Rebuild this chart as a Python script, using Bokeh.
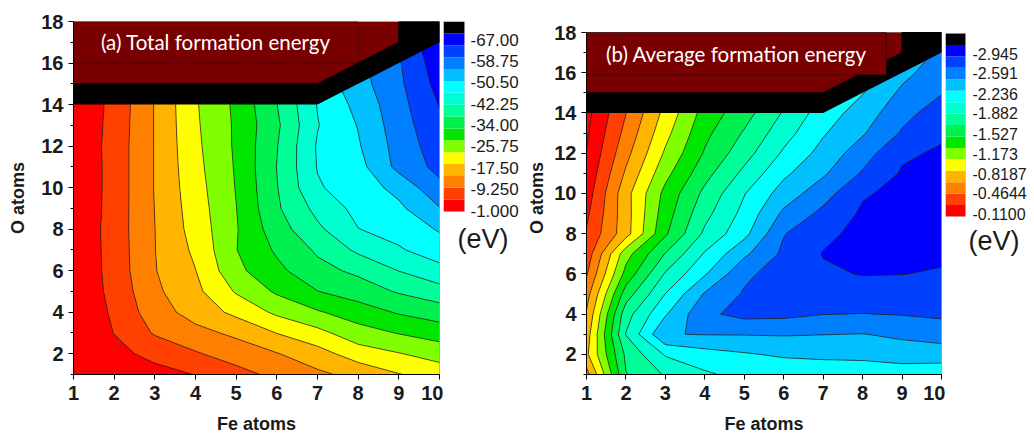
import numpy as np
from bokeh.plotting import figure
from bokeh.layouts import row
from bokeh.models import Range1d, FixedTicker, BoxAnnotation, Label
from bokeh.core.properties import value
from bokeh.embed import file_html
from bokeh.resources import INLINE

nan = float("nan")

# ---------------- data ----------------
fe_atoms = [1, 2, 3, 4, 5, 6, 7, 8, 9, 10]
o_atoms = [1, 2, 3, 4, 5, 6, 7, 8, 9, 10, 11, 12, 13, 14, 15, 16, 17]

# rows: O atoms 1..17, columns: Fe atoms 1..10 (eV); nan = no structure
total_formation_energy = [
    [-1.22, -2.76, -4.08, -5.49, -8.26, -10.90, -13.32, -15.52, -18.38, -20.58],
    [-1.66, -4.30, -6.50, -9.36, -11.78, -13.98, -16.84, -20.80, -22.78, -24.76],
    [-1.88, -5.49, -10.24, -12.88, -15.08, -18.69, -21.68, -25.64, -27.62, -29.38],
    [-1.88, -6.06, -12.22, -15.96, -19.70, -23.88, -26.96, -29.60, -32.24, -34.00],
    [-1.66, -6.72, -13.32, -17.50, -23.44, -28.06, -31.71, -34.00, -36.64, -38.84],
    [-1.44, -7.16, -13.98, -18.51, -26.30, -30.70, -34.88, -37.08, -40.69, -43.68],
    [-1.44, -7.25, -14.11, -19.48, -27.27, -32.46, -36.86, -41.48, -44.56, -47.20],
    [-1.44, -7.38, -14.16, -20.36, -27.05, -34.22, -39.72, -44.91, -46.54, -49.84],
    [-1.22, -7.25, -14.29, -20.80, -27.31, -35.54, -41.92, -46.32, -48.52, -53.58],
    [-1.22, -7.16, -14.42, -21.24, -27.62, -35.98, -44.56, -47.20, -50.72, -57.10],
    [-1.22, -7.16, -14.42, -21.68, -27.84, -36.29, -45.22, -47.86, -55.12, -59.52],
    [-1.44, -7.16, -14.42, -22.03, -28.06, -35.98, -45.44, -48.96, -55.56, -60.62],
    [-1.44, -6.94, -14.42, -22.34, -28.06, -35.41, -44.78, -49.62, -56.22, -61.50],
    [-1.44, -6.72, -14.42, -22.56, -28.28, -36.11, -45.22, -50.72, -56.66, -62.82],
    [nan, nan, nan, nan, nan, nan, nan, -52.04, -57.32, -64.14],
    [nan, nan, nan, nan, nan, nan, nan, nan, -57.76, -65.24],
    [nan, nan, nan, nan, nan, nan, nan, nan, nan, -66.34],
]

average_formation_energy = [
    [-0.601, -1.613, -1.830, -1.972, -2.057, -2.047, -2.028, -2.038, -2.057, -2.038],
    [-0.828, -1.660, -2.019, -2.113, -2.170, -2.217, -2.246, -2.255, -2.302, -2.302],
    [-0.772, -1.820, -2.370, -2.386, -2.387, -2.393, -2.382, -2.374, -2.406, -2.444],
    [-0.696, -1.735, -2.170, -2.529, -2.624, -2.614, -2.571, -2.563, -2.576, -2.605],
    [-0.601, -1.528, -2.004, -2.397, -2.586, -2.652, -2.662, -2.662, -2.671, -2.662],
    [-0.469, -1.310, -1.830, -2.170, -2.529, -2.652, -2.728, -2.765, -2.760, -2.737],
    [-0.375, -1.168, -1.631, -2.019, -2.340, -2.605, -2.765, -2.803, -2.813, -2.794],
    [-0.318, -0.790, -1.405, -1.849, -2.132, -2.558, -2.709, -2.813, -2.832, -2.822],
    [-0.261, -0.790, -1.348, -1.754, -2.057, -2.416, -2.614, -2.784, -2.822, -2.832],
    [-0.203, -0.800, -1.301, -1.669, -1.991, -2.274, -2.491, -2.737, -2.803, -2.822],
    [-0.157, -0.705, -1.187, -1.556, -1.858, -2.151, -2.350, -2.586, -2.775, -2.803],
    [-0.116, -0.618, -1.083, -1.452, -1.735, -2.028, -2.255, -2.482, -2.728, -2.779],
    [-0.082, -0.545, -0.998, -1.386, -1.641, -1.924, -2.170, -2.359, -2.586, -2.728],
    [-0.053, -0.484, -0.923, -1.320, -1.546, -1.830, -2.095, -2.274, -2.510, -2.652],
    [nan, nan, nan, nan, nan, nan, nan, -2.180, -2.416, -2.558],
    [nan, nan, nan, nan, nan, nan, nan, nan, -2.321, -2.491],
    [nan, nan, nan, nan, nan, nan, nan, nan, nan, -2.416],
]

levels_total = [-67.0, -62.6, -58.2, -53.8, -49.4, -45.0, -40.6, -36.2,
                -31.8, -27.4, -23.0, -18.6, -14.2, -9.8, -5.4, -1.0]
levels_average = [-2.945, -2.756, -2.567, -2.378, -2.189, -2.000, -1.811, -1.622,
                  -1.433, -1.244, -1.055, -0.866, -0.677, -0.488, -0.299, -0.110]

cbar_labels_total = [-67.00, -58.75, -50.50, -42.25, -34.00, -25.75, -17.50, -9.250, -1.000]
cbar_labels_average = [-2.945, -2.591, -2.236, -1.882, -1.527, -1.173, -0.8187, -0.4644, -0.1100]

x_ticks = [1, 2, 3, 4, 5, 6, 7, 8, 9, 10]
y_ticks = [2, 4, 6, 8, 10, 12, 14, 16, 18]
y_minor_ticks = [1, 3, 5, 7, 9, 11, 13, 15, 17]

title_a = "(a) Total formation energy"
title_b = "(b) Average formation energy"
unit_text = "(eV)"
x_label = "Fe atoms"
y_label = "O atoms"

# ---------------- styles / layout ----------------
palette = ["#FF0000", "#FF4000", "#FF8000", "#FFB400", "#FFFF00", "#80FF00",
           "#00E600", "#00F050", "#00FF98", "#00FFD0", "#00FFFF", "#00C0FF",
           "#0080FF", "#0040FF", "#0000FF"]  # highest band -> lowest band
MASK_RED = "#780000"
FONT = "Liberation Sans"
TXT = "#1a1a1a"
FRAME_TOP = 21
FRAME_H = 353
FRAME_BOTTOM = FRAME_TOP + FRAME_H
BORDER_BOTTOM = 60


def contour_panel(z, levels, title, box_right, box_bottom, fw, bl, o18_px, title_x,
                  title_size, ylabel_standoff):
    y_lo, y_hi = o_atoms[0], y_ticks[-1]
    ppu = (FRAME_BOTTOM - o18_px) / (y_hi - y_lo)
    y_end = y_hi + (o18_px - FRAME_TOP) / ppu
    p = figure(frame_width=fw, frame_height=FRAME_H,
               x_range=Range1d(x_ticks[0], x_ticks[-1]),
               y_range=Range1d(y_lo, y_end),
               min_border_left=bl, min_border_right=4,
               min_border_top=FRAME_TOP, min_border_bottom=BORDER_BOTTOM,
               output_backend="svg", toolbar_location=None,
               background_fill_color="white", border_fill_color="white")
    p.grid.visible = False
    p.outline_line_color = None

    # empty (no-structure) zone
    p.quad(left=[x_ticks[0]], right=[x_ticks[-1]], bottom=[y_lo], top=[y_hi],
           fill_color=MASK_RED, line_color=None)

    zz = np.array(z, dtype=float)
    fe = np.array(fe_atoms, dtype=float)
    oo = np.array(o_atoms, dtype=float)
    omax = np.array([oo[~np.isnan(zz[:, i])].max() for i in range(len(fe))])
    top = omax + 1
    keep = top < y_hi
    xs = list(fe) + [fe[-1], fe[keep][-1]] + list(fe[keep][::-1])
    ys = list(omax) + [y_hi, y_hi] + list(top[keep][::-1])
    p.patch(xs, ys, fill_color="black", line_color="black", line_width=1)

    step = levels[1] - levels[0]
    lv = [levels[0] - 100 * step] + list(levels) + [levels[-1] + 100 * step]
    fills = ["black"] + palette[::-1] + [palette[0]]
    p.contour(x=fe_atoms, y=o_atoms, z=zz, levels=lv, fill_color=fills,
              line_color="#202020", line_width=0.7)

    p.add_layout(BoxAnnotation(left=x_ticks[0], right=box_right, bottom=box_bottom, top=y_hi,
                               fill_color=MASK_RED, fill_alpha=1.0,
                               line_color="black", line_width=1.2))
    p.add_layout(BoxAnnotation(left=x_ticks[0], right=x_ticks[-1], bottom=y_lo, top=y_hi,
                               fill_alpha=0.0, line_color="black", line_width=1))
    p.add_layout(Label(x=title_x, y=(box_bottom + y_hi) / 2, text=title,
                       text_color="white", text_font="Lato", text_font_size=title_size,
                       text_align="center", text_baseline="middle"))

    p.xaxis.ticker = FixedTicker(ticks=x_ticks)
    p.yaxis.ticker = FixedTicker(ticks=y_ticks, minor_ticks=y_minor_ticks)
    p.yaxis.bounds = (y_lo, y_hi)
    p.xaxis.axis_label = x_label
    p.yaxis.axis_label = y_label
    for ax in (p.xaxis[0], p.yaxis[0]):
        ax.major_label_text_font = FONT
        ax.major_label_text_font_size = "20px"
        ax.major_label_text_font_style = "bold"
        ax.major_label_text_color = TXT
        ax.axis_label_text_font = FONT
        ax.axis_label_text_font_size = "18px"
        ax.axis_label_text_font_style = "bold"
        ax.axis_label_text_color = TXT
        ax.major_tick_out = 5
        ax.major_tick_in = 0
        ax.axis_line_color = "black"
        ax.major_tick_line_color = "black"
    p.xaxis.minor_tick_line_color = None
    p.xaxis.major_label_standoff = 6
    p.xaxis.axis_label_standoff = 11
    p.yaxis.major_label_standoff = 5
    p.yaxis.minor_tick_out = 3
    p.yaxis.minor_tick_in = 0
    p.yaxis.minor_tick_line_color = "black"
    p.yaxis.axis_label_standoff = ylabel_standoff
    return p


def colorbar(levels, labels, fw, bar_w, bar_top_px, bar_bottom_px,
             lab_top_px, lab_bottom_px, label_dx, label_size, ev_dx, ev_mid_px):
    step = levels[1] - levels[0]
    top_val = levels[0] - step
    upp = (levels[-1] - top_val) / (bar_bottom_px - bar_top_px)
    y_start = levels[-1] + (FRAME_BOTTOM - bar_bottom_px) * upp
    y_end = top_val - (bar_top_px - FRAME_TOP) * upp

    def px_to_y(px):
        return levels[-1] + (px - bar_bottom_px) * upp

    p = figure(frame_width=fw, frame_height=FRAME_H,
               x_range=Range1d(0, fw), y_range=Range1d(y_start, y_end),
               min_border_left=0, min_border_right=0,
               min_border_top=FRAME_TOP, min_border_bottom=BORDER_BOTTOM,
               x_axis_location=None, y_axis_location=None,
               output_backend="svg", toolbar_location=None)
    p.grid.visible = False
    p.outline_line_color = None
    lows = list(levels[:-1])[::-1] + [top_val]
    highs = list(levels[1:])[::-1] + [levels[0]]
    cols = palette + ["black"]
    p.quad(left=0, right=bar_w, bottom=lows, top=highs, fill_color=cols, line_color=None)
    p.add_layout(BoxAnnotation(left=0, right=bar_w, bottom=levels[-1], top=top_val,
                               fill_alpha=0.0, line_color="#a0a0a0", line_width=1))
    # scale labels: evenly spread between the lowest and the highest label position
    lo_v, hi_v = labels[-1], labels[0]
    lab_px = [lab_bottom_px - (v - lo_v) / (hi_v - lo_v) * (lab_bottom_px - lab_top_px)
              for v in labels]
    p.text(x=[label_dx] * len(labels), y=[px_to_y(px) for px in lab_px],
           text=[format(v, "#.4g") for v in labels],
           text_font=value(FONT), text_font_size=label_size, text_color=TXT,
           text_align="left", text_baseline="middle")
    p.text(x=[ev_dx], y=[px_to_y(ev_mid_px)], text=[unit_text],
           text_font=value(FONT), text_font_size="27px", text_color=TXT,
           text_align="left", text_baseline="middle")
    return p


fig_a = contour_panel(total_formation_energy, levels_total, title_a, 8.0, 16.0,
                      366, 73, 21, 4.5, "20.5px", 10)
cb_a = colorbar(levels_total, cbar_labels_total, 79, 21, 21, 211, 39, 210, 27, "17px", 14, 238)
fig_b = contour_panel(average_formation_energy, levels_average, title_b, 8.6, 15.9,
                      355, 64, 32, 4.8, "20.5px", 4)
cb_b = colorbar(levels_average, cbar_labels_average, 87, 20, 33, 216, 53, 213, 27, "16px", 23, 240)

layout = row(fig_a, cb_a, fig_b, cb_b)
open("out.html", "w").write(file_html(layout, INLINE))
